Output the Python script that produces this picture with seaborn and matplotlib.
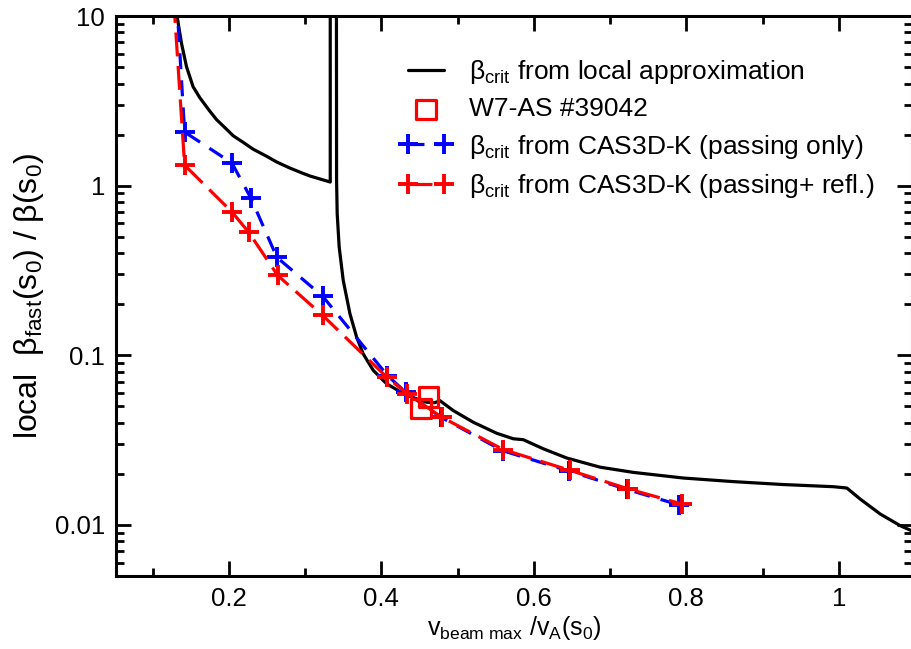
import matplotlib
matplotlib.use("Agg")
import matplotlib.pyplot as plt
import matplotlib.ticker as mticker
import seaborn as sns
import numpy as np

# ---- data ----
local_x = [0.128, 0.1322, 0.1379, 0.1445, 0.1531, 0.1619, 0.175, 0.1839, 0.197,
           0.2056, 0.2188, 0.2319, 0.2495, 0.2626, 0.280, 0.2975, 0.3063, 0.330,
           0.333, 0.333,
           0.341, 0.3413, 0.3421, 0.3447, 0.350, 0.3588, 0.3676, 0.3762, 0.3894,
           0.407, 0.4332, 0.4594, 0.470, 0.4769, 0.4944, 0.5206, 0.5513, 0.5731,
           0.5862, 0.6125, 0.6432, 0.6869, 0.7306, 0.7962, 0.8618, 0.9274, 0.9931,
           1.0106, 1.0281, 1.0543, 1.0806, 1.0963]
local_y = [15.0, 9.9, 6.9, 5.02, 3.83, 3.3, 2.75, 2.45, 2.15,
           1.97, 1.80, 1.64, 1.49, 1.38, 1.27, 1.18, 1.14, 1.06,
           1.05, 50.0,
           50.0, 1.08, 0.684, 0.435, 0.277, 0.176, 0.128, 0.102, 0.0815,
           0.0679, 0.058, 0.0529, 0.0525, 0.0540, 0.0472, 0.0403, 0.0347, 0.0322,
           0.0318, 0.0281, 0.0248, 0.0219, 0.0204, 0.0189, 0.0180, 0.0173, 0.0168,
           0.0165, 0.0142, 0.0116, 0.0099, 0.0092]

w7as_x = [0.452, 0.462]
w7as_y = [0.0485, 0.0570]

passing_x = [0.130, 0.142, 0.204, 0.229, 0.263, 0.323, 0.408, 0.432, 0.478,
             0.559, 0.646, 0.722, 0.791]
passing_y = [16.3, 2.07, 1.36, 0.843, 0.378, 0.223, 0.076, 0.0605, 0.0432,
             0.0274, 0.0208, 0.0162, 0.0131]

refl_x = [0.126, 0.142, 0.204, 0.226, 0.264, 0.323, 0.407, 0.434, 0.479,
          0.560, 0.647, 0.724, 0.794]
refl_y = [16.3, 1.32, 0.70, 0.532, 0.296, 0.172, 0.0744, 0.0594, 0.0432,
          0.0278, 0.0210, 0.0163, 0.0133]

x_ticks = [0.2, 0.4, 0.6, 0.8, 1.0]
x_ticklabels = ["0.2", "0.4", "0.6", "0.8", "1"]
y_ticks = [0.01, 0.1, 1, 10]
y_ticklabels = ["0.01", "0.1", "1", "10"]

labels = [r"β$_{\rm crit}$ from local approximation",
          "W7-AS #39042",
          r"β$_{\rm crit}$ from CAS3D-K (passing only)",
          r"β$_{\rm crit}$ from CAS3D-K (passing+ refl.)"]

# ---- style ----
sns.set_style("ticks")
plt.rcParams["font.family"] = ["Liberation Sans", "DejaVu Sans"]
plt.rcParams["mathtext.fontset"] = "custom"
plt.rcParams["mathtext.rm"] = "Liberation Sans"
plt.rcParams["mathtext.it"] = "Liberation Sans:italic"
plt.rcParams["mathtext.bf"] = "Liberation Sans:bold"
for k in ["text.color", "axes.labelcolor", "xtick.color", "ytick.color",
          "axes.edgecolor"]:
    plt.rcParams[k] = "black"

fig = plt.figure(figsize=(9.12, 6.49), dpi=100)
ax = fig.add_axes([116 / 912, 1 - 576 / 649, 1 - 116 / 912, (576 - 16) / 649])

lw = 2.3
sns.lineplot(x=local_x, y=local_y, ax=ax, sort=False, estimator=None,
             color="black", linewidth=lw, label=labels[0], legend=False)
ax.plot(passing_x, passing_y, color="#0000ff", linewidth=lw,
        linestyle=(0, (5, 3.5)), marker="+", markersize=14, markeredgewidth=2.8,
        label=labels[2])
ax.plot(refl_x, refl_y, color="#ff0000", linewidth=lw,
        linestyle=(0, (7.5, 3)), marker="+", markersize=14, markeredgewidth=2.8,
        label=labels[3])
sns.scatterplot(x=w7as_x, y=w7as_y, ax=ax, marker="s", s=200,
                facecolor="none", edgecolor="#ff0000", linewidth=2.3,
                label=labels[1], legend=False, zorder=5)

ax.set_yscale("log")
ax.set_xlim(0.052, 1.096)
ax.set_ylim(0.005, 10)
ax.set_xticks(x_ticks)
ax.set_xticklabels(x_ticklabels)
ax.xaxis.set_minor_locator(mticker.FixedLocator([0.1, 0.3, 0.5, 0.7, 0.9]))
ax.set_yticks(y_ticks)
ax.set_yticklabels(y_ticklabels)
ax.yaxis.set_minor_locator(mticker.LogLocator(base=10, subs=np.arange(2, 10)))
ax.yaxis.set_minor_formatter(mticker.NullFormatter())

ax.tick_params(which="both", direction="in", top=True, right=True, width=2.0,
               labelsize=18.5, color="black", labelcolor="black", pad=8)
ax.tick_params(which="major", length=11)
ax.tick_params(which="minor", length=5.5)
for s in ax.spines.values():
    s.set_linewidth(2.2)
    s.set_color("black")

ax.set_xlabel(r"v$_{\rm beam\ max}$ /v$_{\rm A}$(s$_0$)", fontsize=18, labelpad=2)
ax.set_ylabel(r"local  β$_{\rm fast}$(s$_0$) / β(s$_0$)", fontsize=23, labelpad=6)

handles, labs = ax.get_legend_handles_labels()
order = [labs.index(l) for l in labels]
leg = ax.legend([handles[i] for i in order], [labs[i] for i in order],
                loc="upper left", bbox_to_anchor=(400 / 912, 1 - 58 / 649),
                bbox_transform=fig.transFigure, frameon=False, fontsize=19,
                numpoints=2, scatterpoints=1, handlelength=1.95,
                handletextpad=0.65, labelspacing=0.43, borderpad=0,
                borderaxespad=0)

fig.savefig("out.png", dpi=100)
